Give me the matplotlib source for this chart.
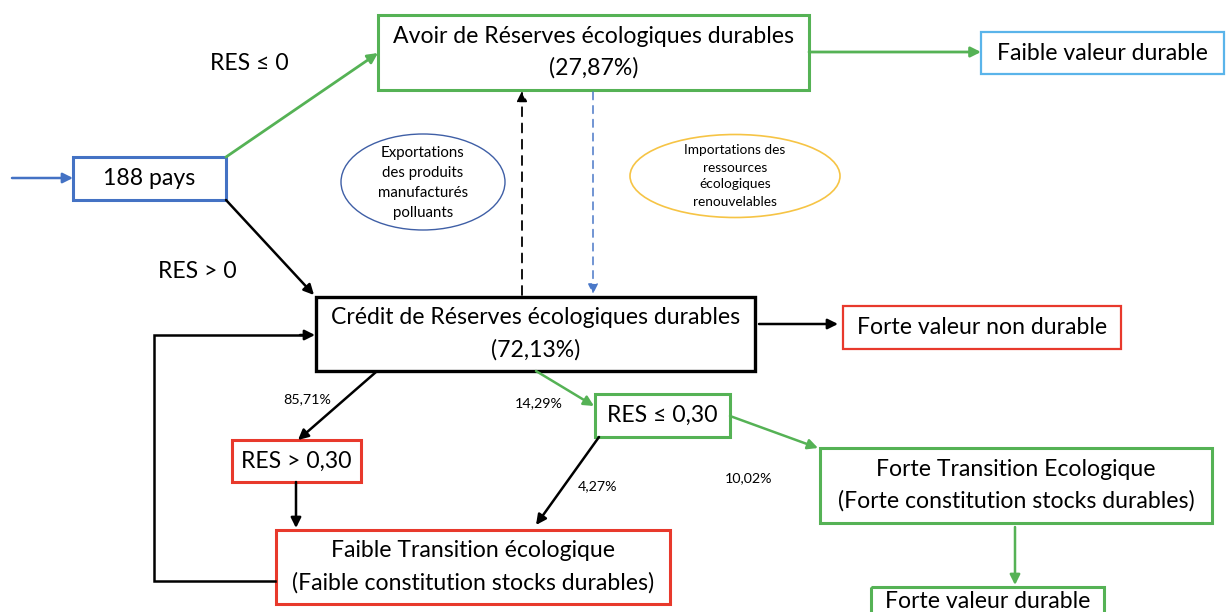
import matplotlib
matplotlib.use("Agg")
import matplotlib.pyplot as plt
from matplotlib.patches import Rectangle, Ellipse, FancyArrowPatch

plt.rcParams['font.family'] = ['Lato', 'DejaVu Sans']

# ---- content (labels) ----
node_labels = {
    "pays": "188 pays",
    "avoir": "Avoir de Réserves écologiques durables\n(27,87%)",
    "faible_val": "Faible valeur durable",
    "credit": "Crédit de Réserves écologiques durables\n(72,13%)",
    "forte_nd": "Forte valeur non durable",
    "res_gt": "RES > 0,30",
    "res_le": "RES ≤ 0,30",
    "faible_tr": "Faible Transition écologique\n(Faible constitution stocks durables)",
    "forte_tr": "Forte Transition Ecologique\n(Forte constitution stocks durables)",
    "forte_val": "Forte valeur durable",
}
ellipse_labels = ["Exportations\ndes produits\nmanufacturés\npolluants",
                  "Importations des\nressources\nécologiques\nrenouvelables"]
branch_labels = ["RES ≤ 0", "RES > 0"]
pct_labels = ["85,71%", "14,29%", "4,27%", "10,02%"]

# ---- styles ----
GREEN = '#55B255'
RED = '#E8392C'
BLUE = '#4472C4'
LBLUE = '#5AB4EA'
ORANGE = '#F6C445'
EBLUE = '#3F5FA6'
BLACK = '#000000'
FS = 16.6

W, H = 1226, 612
fig = plt.figure(figsize=(W / 100, H / 100), dpi=100)
ax = fig.add_axes([0, 0, 1, 1])
ax.set_xlim(0, W)
ax.set_ylim(H, 0)
ax.axis('off')

# boxes: key -> (x0, y0, x1, y1, color, lw)
boxes = {
    "pays": (73, 157, 226, 200, BLUE, 2.2),
    "avoir": (378, 15, 809, 90, GREEN, 2.2),
    "faible_val": (981, 32, 1224, 74, LBLUE, 1.6),
    "credit": (316, 297, 755, 371, BLACK, 2.4),
    "forte_nd": (843, 306, 1121, 349, RED, 1.6),
    "res_gt": (232, 440, 361, 482, RED, 2.2),
    "res_le": (595, 394, 730, 437, GREEN, 2.2),
    "faible_tr": (276, 530, 670, 604, RED, 2.2),
    "forte_tr": (820, 448, 1212, 523, GREEN, 2.2),
    "forte_val": (871, 587, 1104, 640, GREEN, 2.2),
}
text_y = {"forte_val": 601}
for k, (x0, y0, x1, y1, c, lw) in boxes.items():
    ax.add_patch(Rectangle((x0, y0), x1 - x0, y1 - y0, fill=False,
                           edgecolor=c, lw=lw, clip_on=True))
    ty = text_y.get(k, (y0 + y1) / 2)
    ax.text((x0 + x1) / 2, ty, node_labels[k], ha='center', va='center',
            fontsize=FS, linespacing=1.6, clip_on=True)


def arrow(p, q, color, lw=1.8, ls='-'):
    a = FancyArrowPatch(p, q, arrowstyle='-|>,head_width=0.3,head_length=0.6',
                        color=color, lw=lw, linestyle=ls, shrinkA=0, shrinkB=0,
                        mutation_scale=10)
    ax.add_patch(a)


# arrows
arrow((12, 178), (73, 178), BLUE, lw=1.8)
arrow((226, 157), (378, 53), GREEN, lw=2.0)
arrow((809, 52), (981, 52), GREEN, lw=2.0)
arrow((226, 200), (314, 295), BLACK, lw=1.8)
arrow((522, 295), (522, 91), BLACK, lw=1.3, ls=(0, (5, 4)))
arrow((593, 92), (593, 294), '#4A78C8', lw=1.1, ls=(0, (5, 4)))
arrow((759, 324), (838, 324), BLACK, lw=1.8)
arrow((376, 372), (298, 440), BLACK, lw=1.8)
arrow((296, 482), (296, 528), BLACK, lw=1.8)
arrow((536, 371), (594, 406), GREEN, lw=1.8)
arrow((599, 437), (536, 525), BLACK, lw=1.8)
arrow((730, 416), (818, 448), GREEN, lw=1.8)
arrow((1015, 527), (1015, 585), GREEN, lw=1.8)

# feedback loop
ax.plot([275, 154, 154, 305], [581, 581, 335, 335], color=BLACK, lw=1.8,
        solid_joinstyle='miter')
arrow((300, 335), (315, 335), BLACK, lw=1.8)

# ellipses
ax.add_patch(Ellipse((423, 182), 164, 96, fill=False, edgecolor=EBLUE, lw=1.0))
ax.add_patch(Ellipse((735, 176), 210, 83, fill=False, edgecolor=ORANGE, lw=1.2))
ax.text(423, 183, ellipse_labels[0], ha='center', va='center', fontsize=10.8,
        linespacing=1.55)
ax.text(735, 176, ellipse_labels[1], ha='center', va='center', fontsize=9.8,
        linespacing=1.5)

# branch labels
ax.text(249, 63, branch_labels[0], ha='center', va='center', fontsize=FS)
ax.text(197, 272, branch_labels[1], ha='center', va='center', fontsize=FS)

# percentages
pct_pos = [(307, 399), (539, 403), (598, 486), (749, 478)]
for lab, (x, y) in zip(pct_labels, pct_pos):
    ax.text(x, y, lab, ha='center', va='center', fontsize=10.3)

fig.savefig('out.png', dpi=100)
